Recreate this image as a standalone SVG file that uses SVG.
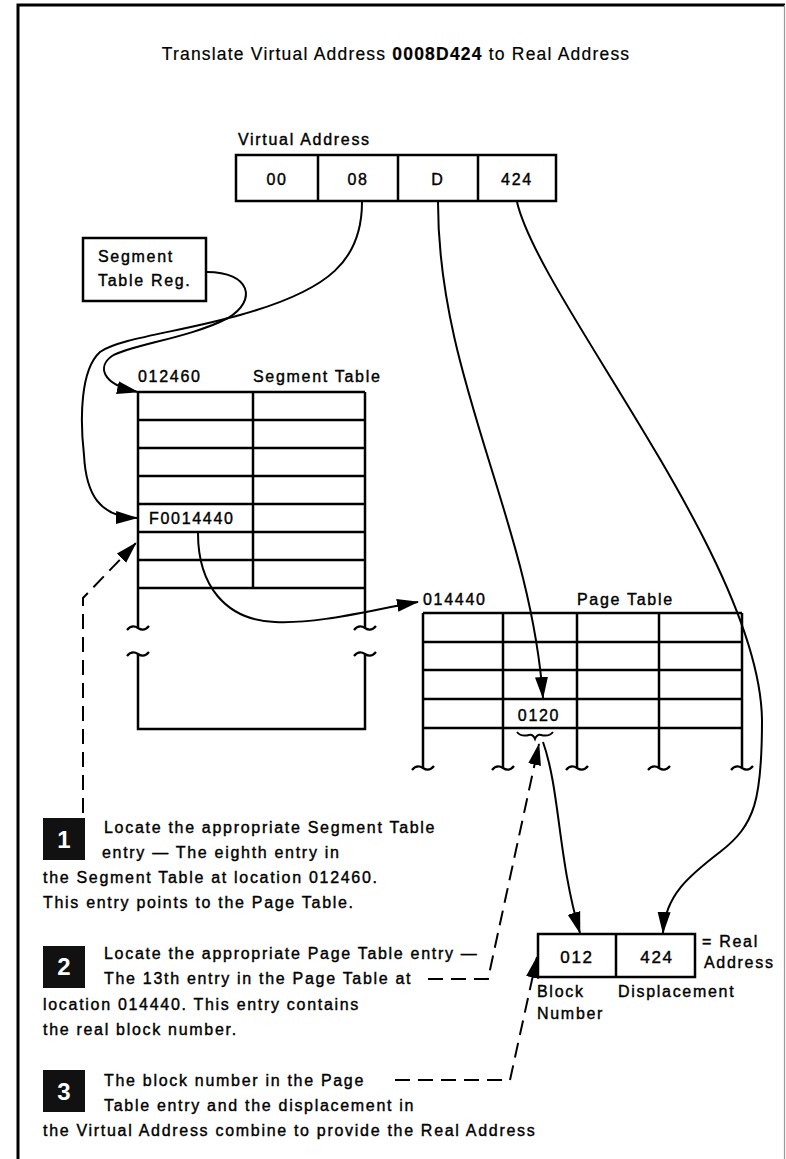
<svg xmlns="http://www.w3.org/2000/svg" width="786" height="1159" viewBox="0 0 786 1159">
<defs>
<style>
.t{font-family:"Liberation Sans",Arial,sans-serif;font-size:16px;letter-spacing:1.7px;fill:#000;stroke:#000;stroke-width:0.4}
.ttl{font-family:"Liberation Sans",Arial,sans-serif;font-size:17.5px;letter-spacing:1.2px;fill:#000;stroke:#000;stroke-width:0.2}
.m{text-anchor:middle}
.big{font-size:17px}
.box{fill:#fff;stroke:#000;stroke-width:2.5}
.ln{fill:none;stroke:#000;stroke-width:2.5}
.c{fill:none;stroke:#000;stroke-width:2}
.d{fill:none;stroke:#000;stroke-width:2;stroke-dasharray:15 8}
.nb{fill:#111}
.nt{font-family:"Liberation Sans",Arial,sans-serif;font-size:24px;font-weight:bold;fill:#fff;text-anchor:middle}
</style>
<marker id="ah" markerWidth="22" markerHeight="14" refX="21" refY="7" orient="auto" markerUnits="userSpaceOnUse"><path d="M0,0.5 L22,7 L0,13.5 z" fill="#000"/></marker>
<path id="tl" d="M-11,2 C-7,-3 -3,-2 0,0 C3,2 7,3 11,-2" fill="none" stroke="#000" stroke-width="2.2"/>
</defs>
<rect x="0" y="0" width="786" height="1159" fill="#fff"/>
<g id="frame">
<path d="M18,1165 V5 H785" fill="none" stroke="#000" stroke-width="3"/>
<path d="M784.5,5 V1159" fill="none" stroke="#999" stroke-width="1.2"/>
</g>
<g id="title">
<text class="ttl m" x="396" y="60">Translate Virtual Address <tspan font-weight="bold">0008D424</tspan> to Real Address</text>
</g>
<g id="virtual-address">
<text class="t" x="238" y="145">Virtual Address</text>
<rect class="box" x="236" y="155" width="320" height="46"/>
<path class="ln" d="M318,155 V201 M398,155 V201 M478,155 V201"/>
<text class="t m" x="277" y="185">00</text>
<text class="t m" x="358" y="185">08</text>
<text class="t m" x="438" y="185">D</text>
<text class="t m" x="517" y="185">424</text>
</g>
<g id="segment-table-reg">
<rect class="box" x="83" y="238" width="123" height="63"/>
<text class="t" x="98" y="262">Segment</text>
<text class="t" x="98" y="286">Table Reg.</text>
</g>
<g id="segment-table">
<text class="t" x="138" y="382">012460</text>
<text class="t" x="253" y="382">Segment Table</text>
<path class="ln" d="M138,392 H365 M138,420 H365 M138,448 H365 M138,476 H365 M138,504 H365 M138,532 H365 M138,560 H365 M138,588 H365 M253,392 V588 M138,392 V627 M365,392 V627 M138,654 V729 H365 V654"/>
<use href="#tl" x="138" y="628"/>
<use href="#tl" x="365" y="628"/>
<use href="#tl" x="138" y="654"/>
<use href="#tl" x="365" y="654"/>
<text class="t" x="149" y="524">F0014440</text>
</g>
<g id="page-table">
<text class="t" x="423" y="605">014440</text>
<text class="t" x="577" y="605">Page Table</text>
<path class="ln" d="M423,613 H742 M423,642 H742 M423,670 H742 M423,699 H742 M423,728 H742 M423,613 V767 M503,613 V767 M577,613 V767 M659,613 V767 M742,613 V767"/>
<use href="#tl" x="423" y="768"/>
<use href="#tl" x="503" y="768"/>
<use href="#tl" x="577" y="768"/>
<use href="#tl" x="659" y="768"/>
<use href="#tl" x="742" y="768"/>
<text class="t m" x="539" y="721">0120</text>
<path d="M517,732 Q521,737 529,735 Q533,734 535,739 Q537,734 541,735 Q549,737 553,732" fill="none" stroke="#000" stroke-width="2"/>
</g>
<g id="real-address">
<rect class="box" x="538" y="934" width="157" height="43"/>
<path class="ln" d="M616,934 V977"/>
<text class="t m big" x="577" y="963">012</text>
<text class="t m big" x="657" y="963">424</text>
<text class="t" x="702" y="947">= Real</text>
<text class="t" x="704" y="968">Address</text>
<text class="t" x="537" y="997">Block</text>
<text class="t" x="537" y="1019">Number</text>
<text class="t" x="618" y="997">Displacement</text>
</g>
<g id="step1">
<rect class="nb" x="43" y="818" width="42" height="42"/>
<text class="nt" x="64" y="848">1</text>
<text class="t" x="104" y="833">Locate the appropriate Segment Table</text>
<text class="t" x="102" y="858">entry — The eighth entry in</text>
<text class="t" x="43" y="883">the Segment Table at location 012460.</text>
<text class="t" x="43" y="908">This entry points to the Page Table.</text>
</g>
<g id="step2">
<rect class="nb" x="43" y="946" width="42" height="42"/>
<text class="nt" x="64" y="975">2</text>
<text class="t" x="104" y="959">Locate the appropriate Page Table entry —</text>
<text class="t" x="104" y="984">The 13th entry in the Page Table at</text>
<text class="t" x="43" y="1010">location 014440.  This entry contains</text>
<text class="t" x="43" y="1035">the real block number.</text>
</g>
<g id="step3">
<rect class="nb" x="43" y="1070" width="42" height="42"/>
<text class="nt" x="64" y="1100">3</text>
<text class="t" x="104" y="1086">The block number in the Page</text>
<text class="t" x="104" y="1111">Table entry and the displacement in</text>
<text class="t" x="43" y="1136">the Virtual Address combine to provide the Real Address</text>
</g>
<g id="connectors">
<path class="c" d="M362,202 C362,260 330,290 240,315 C180,332 120,338 100,352 C80,370 80,420 84,455 C86,495 100,517 137,518" marker-end="url(#ah)"/>
<path class="c" d="M207,272 C250,272 258,300 228,318 C190,338 130,345 112,356 C98,366 100,384 138,392" marker-end="url(#ah)"/>
<path class="c" d="M198,533 C198,585 225,620 275,622 C320,624 370,610 418,602" marker-end="url(#ah)"/>
<path class="c" d="M438,202 C438,380 530,520 543,698" marker-end="url(#ah)"/>
<path class="c" d="M517,202 C540,300 760,560 762,720 C762,800 755,825 720,852 C690,875 665,895 663,933" marker-end="url(#ah)"/>
<path class="c" d="M543,742 C560,790 558,860 580,933" marker-end="url(#ah)"/>
<path class="d" d="M83,813 V598 L136,543" marker-end="url(#ah)"/>
<path class="d" d="M428,979 H488 L539,744" marker-end="url(#ah)"/>
<path class="d" d="M395,1080 H510 L537,957" marker-end="url(#ah)"/>
</g>
</svg>
